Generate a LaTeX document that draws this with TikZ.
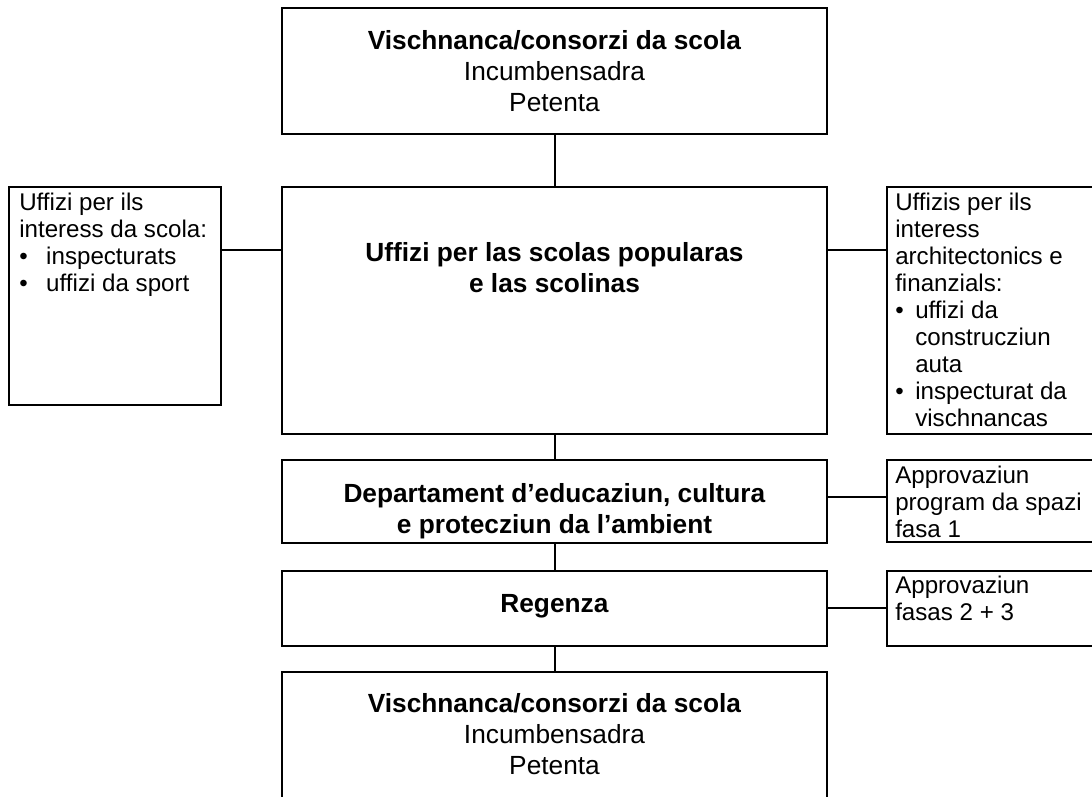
\documentclass[tikz,border=0pt]{standalone}
\usepackage{fontspec}
\setmainfont{Liberation Sans}
\newcommand\pxu{0.75pt}
\newcommand\ctrlines[1]{\vtop{\halign{\hfil##\hfil\cr#1\crcr}}}
\newcommand\lftlines[1]{\vtop{\halign{##\hfil\cr#1\crcr}}}
\tikzset{
  box/.style={draw, line width=1.5pt, rectangle, inner sep=0pt},
  big/.style={font=\fontsize{19.7}{23.6}\selectfont, anchor=base, inner sep=0pt},
  small/.style={font=\fontsize{18.1}{20.25}\selectfont, anchor=base west, inner sep=0pt},
  link/.style={line width=1.5pt}
}
\begin{document}
\begin{tikzpicture}[x=0.75pt,y=-0.75pt]
\useasboundingbox (0,0) rectangle (1092,796);
\clip (0,0) rectangle (1092,796);
% boxes
\node[box, minimum width={545*\pxu}, minimum height={126*\pxu}] (top) at (554.5,70.5) {};
\node[box, minimum width={545*\pxu}, minimum height={247*\pxu}] (mid) at (554.5,310.5) {};
\node[box, minimum width={212*\pxu}, minimum height={218*\pxu}] (left) at (115,296) {};
\node[box, minimum width={213*\pxu}, minimum height={247*\pxu}] (right) at (993.5,310.5) {};
\node[box, minimum width={545*\pxu}, minimum height={83*\pxu}] (dept) at (554.5,501.5) {};
\node[box, minimum width={213*\pxu}, minimum height={82*\pxu}] (appr1) at (993.5,501) {};
\node[box, minimum width={545*\pxu}, minimum height={75*\pxu}] (reg) at (554.5,608.5) {};
\node[box, minimum width={213*\pxu}, minimum height={75*\pxu}] (appr2) at (993.5,608) {};
\node[box, minimum width={545*\pxu}, minimum height={128*\pxu}] (bot) at (554.5,736) {};
% texts
\node[big] (topT) at (554.5,49) {\ctrlines{\textbf{Vischnanca/consorzi da scola}\cr Incumbensadra\cr Petenta}};
\node[big] (midT) at (554.5,261) {\ctrlines{\textbf{Uffizi per las scolas popularas}\cr \textbf{e las scolinas}}};
\node[big] (deptT) at (554.5,502) {\ctrlines{\textbf{Departament d’educaziun, cultura}\cr \textbf{e protecziun da l’ambient}}};
\node[big] (regT) at (554.5,612) {\textbf{Regenza}};
\node[big] (botT) at (554.5,712) {\ctrlines{\textbf{Vischnanca/consorzi da scola}\cr Incumbensadra\cr Petenta}};
\node[small] (leftT) at (19,210) {\lftlines{Uffizi per ils\cr interess da scola:\cr \makebox[20.25pt][l]{\textbullet}inspecturats\cr \makebox[20.25pt][l]{\textbullet}uffizi da sport}};
\node[small] (rightT) at (895,210) {\lftlines{Uffizis per ils\cr interess\cr architectonics e\cr finanzials:\cr \makebox[15pt][l]{\textbullet}uffizi da\cr \hbox to 15pt{}construcziun\cr \hbox to 15pt{}auta\cr \makebox[15pt][l]{\textbullet}inspecturat da\cr \hbox to 15pt{}vischnancas}};
\node[small] (appr1T) at (895,483) {\lftlines{Approvaziun\cr program da spazi\cr fasa 1}};
\node[small] (appr2T) at (895,593) {\lftlines{Approvaziun\cr fasas 2 + 3}};
% connectors
\coordinate (ya) at (0,250);
\coordinate (yb) at (0,497);
\coordinate (yc) at (0,608);
\draw[link] (top.south) -- (mid.north);
\draw[link] (left.east |- ya) -- (mid.west |- ya);
\draw[link] (mid.east |- ya) -- (right.west |- ya);
\draw[link] (mid.south) -- (dept.north);
\draw[link] (dept.east |- yb) -- (appr1.west |- yb);
\draw[link] (dept.south) -- (reg.north);
\draw[link] (reg.east |- yc) -- (appr2.west |- yc);
\draw[link] (reg.south) -- (bot.north);
\end{tikzpicture}
\end{document}
